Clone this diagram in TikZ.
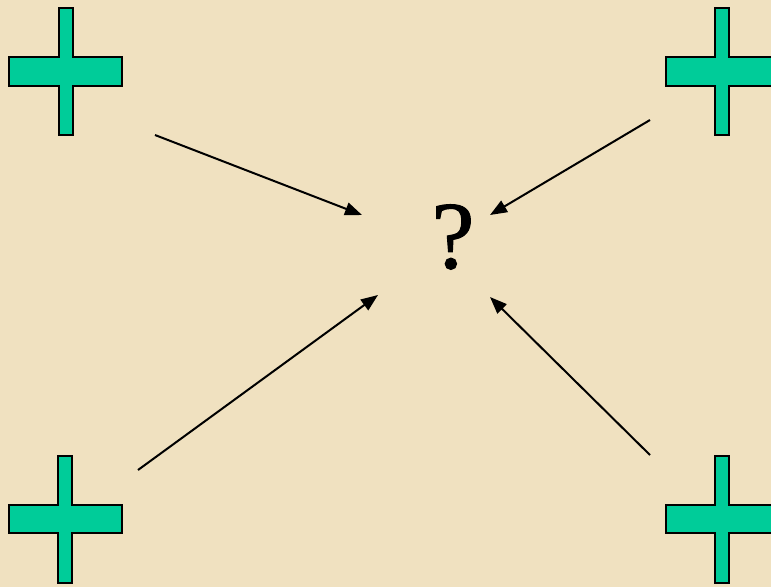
\documentclass[tikz,border=0pt]{standalone}
\usepackage{fontspec}
\setmainfont{Liberation Serif}
\newfontfamily\qfont[FakeBold=1.2]{Liberation Serif}
\usetikzlibrary{arrows.meta}
\definecolor{parch}{RGB}{240,225,192}
\definecolor{crossgreen}{RGB}{0,204,153}
\tikzset{
  crossshape/.style={fill=crossgreen, draw=black, line width=2.6pt, line join=miter},
  pointer/.style={draw=black, line width=2pt, -{Triangle[length=17pt,width=13pt]}},
}
\begin{document}
\begin{tikzpicture}[x=1pt,y=-1pt]
\fill[parch] (0,0) rectangle (771,587);
\useasboundingbox (0,0) rectangle (771,587);
\clip (0,0) rectangle (771,587);
% top-left cross
\draw[crossshape] (59,8) -- (73,8) -- (73,57) -- (122,57) -- (122,86) -- (73,86) -- (73,135) -- (59,135) -- (59,86) -- (9,86) -- (9,57) -- (59,57) -- cycle;
% top-right cross
\draw[crossshape] (715,8) -- (729,8) -- (729,57) -- (780,57) -- (780,86) -- (729,86) -- (729,135) -- (715,135) -- (715,86) -- (666,86) -- (666,57) -- (715,57) -- cycle;
% bottom-left cross
\draw[crossshape] (58,456) -- (72,456) -- (72,505) -- (122,505) -- (122,533) -- (72,533) -- (72,583) -- (58,583) -- (58,533) -- (9,533) -- (9,505) -- (58,505) -- cycle;
% bottom-right cross
\draw[crossshape] (715,456) -- (729,456) -- (729,505) -- (780,505) -- (780,533) -- (729,533) -- (729,583) -- (715,583) -- (715,533) -- (666,533) -- (666,505) -- (715,505) -- cycle;
% question mark
\node[inner sep=0pt, font=\qfont\fontsize{96}{100}\selectfont] (q) at (453,237) {?};
% arrow endpoints
\coordinate (tlS) at (155,135);
\coordinate (tlE) at (362,215);
\coordinate (trS) at (650,120);
\coordinate (trE) at (490,215);
\coordinate (blS) at (138,470);
\coordinate (blE) at (378,295);
\coordinate (brS) at (650,455);
\coordinate (brE) at (490,297);
\draw[pointer] (tlS) -- (tlE);
\draw[pointer] (trS) -- (trE);
\draw[pointer] (blS) -- (blE);
\draw[pointer] (brS) -- (brE);
\end{tikzpicture}
\end{document}
